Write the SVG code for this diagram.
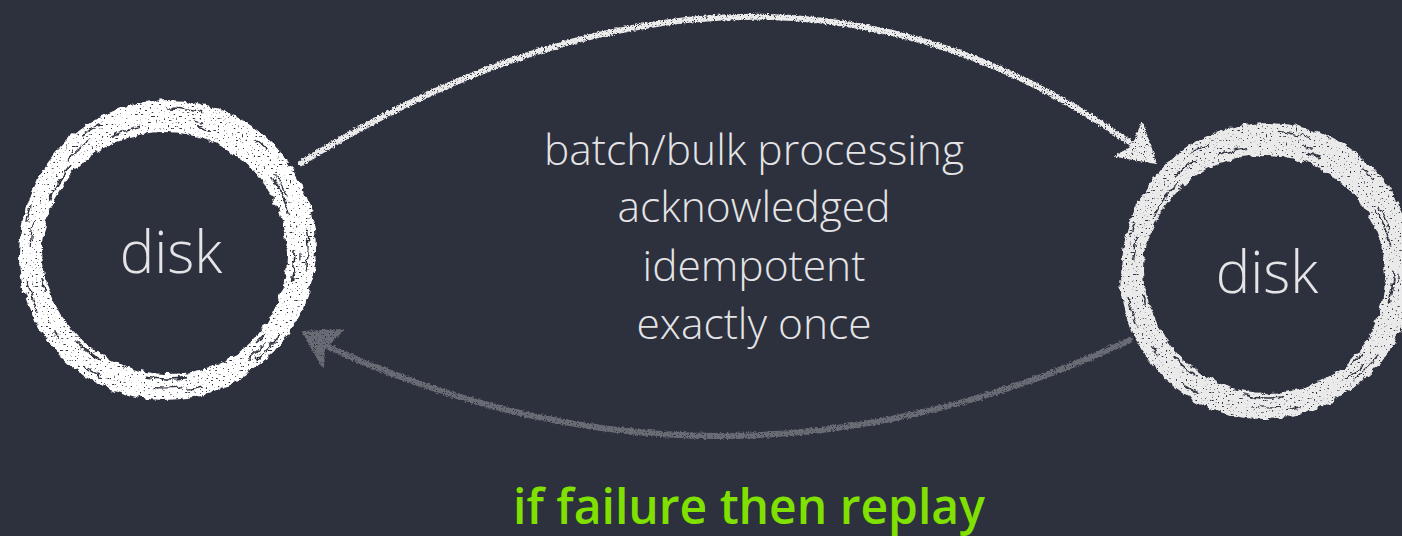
<svg xmlns="http://www.w3.org/2000/svg" width="1402" height="536" viewBox="0 0 1402 536">
  <style>
    .label { font-family: "Open Sans", "Liberation Sans", sans-serif; font-weight: 300; fill: #e4e4e6; text-anchor: middle; }
    .disk { font-size: 58px; }
    .props { font-size: 42.5px; }
    .note { font-family: "Open Sans", "Liberation Sans", sans-serif; font-weight: 600; font-size: 48px; fill: #80e000; text-anchor: middle; }
    .ring { fill: none; }
    .streak { fill: none; stroke: #2d303d; stroke-linecap: round; }
    .edge { fill: none; stroke-width: 6; stroke-linecap: round; }
  </style>
  <defs>
    <!-- rough chalk edge with light grain -->
    <filter id="chalk" x="-15%" y="-15%" width="130%" height="130%">
      <feTurbulence type="fractalNoise" baseFrequency="0.45" numOctaves="3" seed="3" result="noise"/>
      <feDisplacementMap in="SourceGraphic" in2="noise" scale="4" xChannelSelector="R" yChannelSelector="G" result="rough"/>
      <feTurbulence type="fractalNoise" baseFrequency="0.9" numOctaves="2" seed="9" result="grain"/>
      <feColorMatrix in="grain" type="matrix" values="0 0 0 0 0  0 0 0 0 0  0 0 0 0 0  9 0 0 0 -2.4" result="mask"/>
      <feComposite in="rough" in2="mask" operator="in"/>
    </filter>
    <!-- brush ring: solid body with ragged edges -->
    <filter id="brush" x="-15%" y="-15%" width="130%" height="130%">
      <feTurbulence type="fractalNoise" baseFrequency="0.12" numOctaves="4" seed="5" result="noise"/>
      <feDisplacementMap in="SourceGraphic" in2="noise" scale="7" xChannelSelector="R" yChannelSelector="G" result="rough"/>
      <feTurbulence type="fractalNoise" baseFrequency="0.5" numOctaves="2" seed="11" result="grain"/>
      <feColorMatrix in="grain" type="matrix" values="0 0 0 0 0  0 0 0 0 0  0 0 0 0 0  14 0 0 0 -3.6" result="mask"/>
      <feComposite in="rough" in2="mask" operator="in"/>
    </filter>
  </defs>

  <rect width="1402" height="536" fill="#2d303d"/>

  <g id="connectors">
    <g id="edge-forward" filter="url(#chalk)">
      <path class="edge" stroke="#ececec" d="M 301 163 Q 765 -123 1140 150"/>
      <path d="M 1142 123 L 1156 163 L 1116 156 L 1133 147 Z" fill="#ececec" stroke="#ececec" stroke-width="2" stroke-linejoin="round"/>
    </g>
    <g id="edge-replay" filter="url(#chalk)">
      <path class="edge" stroke="#6b6c75" d="M 1130 340 Q 719 531 318 342"/>
      <path d="M 343 330 L 303 332 L 323 367 L 324 348 Z" fill="#6b6c75" stroke="#6b6c75" stroke-width="2" stroke-linejoin="round"/>
    </g>
  </g>

  <g id="disk-source">
    <g filter="url(#brush)">
      <circle class="ring" cx="168" cy="248" r="137" stroke="#ffffff" stroke-width="22"/>
      <circle class="ring" cx="164" cy="255" r="134" stroke="#ffffff" stroke-width="22"/>
      <circle class="streak" cx="167" cy="251" r="128" stroke-width="1.6" stroke-dasharray="30 60 12 80 40 50"/>
      <circle class="streak" cx="166" cy="250" r="142" stroke-width="1.4" stroke-dasharray="20 70 35 60 15 90"/>
      <circle class="streak" cx="165" cy="253" r="135" stroke-width="1.2" stroke-dasharray="8 90 25 70 30 110"/>
    </g>
    <text class="label disk" x="171" y="273">disk</text>
  </g>

  <g id="disk-sink">
    <g filter="url(#brush)">
      <circle class="ring" cx="1268" cy="269" r="135" stroke="#eaeaea" stroke-width="22"/>
      <circle class="ring" cx="1264" cy="276" r="132" stroke="#eaeaea" stroke-width="22"/>
      <circle class="streak" cx="1267" cy="272" r="126" stroke-width="1.6" stroke-dasharray="30 60 12 80 40 50"/>
      <circle class="streak" cx="1266" cy="271" r="140" stroke-width="1.4" stroke-dasharray="20 70 35 60 15 90"/>
      <circle class="streak" cx="1265" cy="274" r="133" stroke-width="1.2" stroke-dasharray="8 90 25 70 30 110"/>
    </g>
    <text class="label disk" x="1267" y="293">disk</text>
  </g>

  <g id="properties">
    <text class="label props" x="754" y="165">batch/bulk processing</text>
    <text class="label props" x="754" y="222">acknowledged</text>
    <text class="label props" x="754" y="281">idempotent</text>
    <text class="label props" x="754" y="339">exactly once</text>
  </g>

  <g id="failure-note">
    <text class="note" x="749" y="524">if failure then replay</text>
  </g>
</svg>
